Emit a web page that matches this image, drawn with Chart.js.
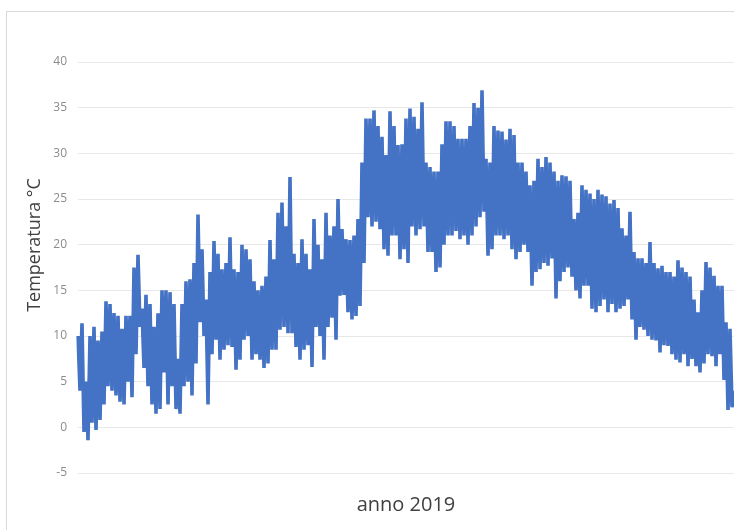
<!DOCTYPE html>
<html>
<head>
<meta charset="utf-8">
<script src="https://cdn.jsdelivr.net/npm/chart.js@4"></script>
<style>
  html, body { margin: 0; padding: 0; background: #fff; overflow: hidden; }
  #frame { position: absolute; left: 6px; top: 11px; width: 800px; height: 600px; border: 1px solid #d9d9d9; }
  #wrap { position: absolute; left: 0; top: 0; width: 734px; height: 530px; }
</style>
</head>
<body>
<div id="frame"></div>
<div id="wrap"><canvas id="tempChart" width="734" height="530"></canvas></div>
<script>
// daily highs / lows, alternating, Jan -> Dec
const temperature = [
  10, 4, 11.4, -0.5, 5, -1.4, 10, 0.5, 11, -0.3,
  9.5, 0.8, 10.5, 2.5, 13.8, 4.5, 13.5, 4, 12.5, 3.5,
  12.2, 2.8, 10.8, 2.5, 12.2, 5, 12.2, 3.3, 17.5, 8,
  18.9, 11, 13, 6.5, 14.5, 4.5, 13.5, 2.5, 11, 1.5,
  12.5, 2, 15, 6, 15, 2.5, 14.8, 4.5, 13.5, 2,
  7.5, 1.5, 13.5, 4.5, 16, 5, 16.2, 3.5, 18, 7,
  23.3, 11.5, 19.5, 10, 14, 2.5,
  17, 8, 20.4, 9.6, 19, 7.4, 17.3, 8.5, 18, 9, 20.8, 8.8, 17.3, 6.3,
  17, 7.4, 20, 9.6, 19.5, 10, 18.4, 7.4, 16, 8, 15, 7.4, 15.5, 6.5, 16.5, 7, 20.5, 8.5, 18.4, 8.5,
  23.5, 10.7, 24.6, 11, 22, 10.3, 27.4, 10.3, 19, 8.8, 18, 7.4, 20.6, 8.5, 19, 9, 17.3, 6.6, 22.8, 11,
  20, 10, 18.4, 7.4, 23.5, 11, 21, 12, 22, 9.6,
  25, 14.4, 21.7, 14.5, 20.6, 12.6, 20.5, 11.8, 21, 12.2,
  22.8, 13.3, 29, 18, 33.8, 23, 33.8, 22, 34.7, 22.5, 33, 21.7, 31.8, 19.5, 29.8, 18.8, 34.6, 21, 33, 21,
  30.9, 18.4, 31, 19.5, 33.8, 18, 34.9, 22, 34, 21, 32.7, 21.7, 35.6, 22, 29, 19.2, 28.5, 19.2, 28, 17,
  28, 17.5, 31, 20, 33.5, 21, 33.5, 21, 33, 21.5, 31.6, 20.6, 31.6, 21, 31.6, 20,
  33, 21, 35.5, 22,
  35, 23, 36.9, 23.6, 29.4, 18.8, 29, 19.5, 33, 21, 32.5, 21, 32.4, 20.6, 31.5, 21, 32.7, 19.5, 32, 18.4,
  29, 19.2, 29, 20, 28, 19.2, 26.5, 15.5, 27, 17, 29.4, 17.3, 28.5, 18, 29.6, 17.7, 29, 18.5, 28, 14.1,
  27, 16, 27.6, 17, 27.5, 17.5, 27, 16.5, 22.8, 15, 23.5, 14.1, 26.5, 15.5, 26, 15.5, 25.6, 13, 25, 12.6,
  26, 13.3, 25.5, 14, 25.3, 12.6, 24.5, 13.5, 24.9, 12.6, 24, 13, 21.8, 13.3, 21, 14, 23.6, 11.8, 19.2, 9.6,
  18.5, 11, 18.5, 10.7, 18, 10, 20.3, 9.6, 18, 9.5, 17.4, 8.2, 17.7, 9, 17, 8.9, 17, 8, 16.5, 7.4,
  18.3, 7.1, 17.5, 8, 17, 6.7, 16.5, 7.5, 14, 6.7, 12.6, 6, 15, 7, 18.1, 8, 17.5, 7.8, 16.6, 6.7,
  15.5, 8, 15.5, 5.2, 11.5, 1.9, 10.8, 2.2, 4
];
const samples = temperature.map((_, i) => i);
const yTicks = [-5, 0, 5, 10, 15, 20, 25, 30, 35, 40];
const xTitle = "anno 2019";
const yTitle = "Temperatura °C";

const yTitlePlugin = {
  id: "yTitle",
  afterDraw(chart) {
    const c = chart.ctx;
    c.save();
    c.translate(35, 245);
    c.rotate(-Math.PI / 2);
    c.font = "18px 'Open Sans'";
    c.fillStyle = "#404040";
    c.textAlign = "center";
    c.textBaseline = "middle";
    c.fillText(yTitle, 0, 0);
    c.restore();
  }
};

const ctx = document.getElementById("tempChart").getContext("2d");
new Chart(ctx, {
  type: "line",
  data: {
    labels: samples,
    datasets: [{
      data: temperature,
      borderColor: "#4472c4",
      borderWidth: 3.6,
      pointRadius: 0,
      tension: 0,
      fill: false
    }]
  },
  options: {
    responsive: false,
    animation: false,
    layout: { padding: { top: 62, left: 0, right: 0, bottom: 0 } },
    plugins: { legend: { display: false }, tooltip: { enabled: false } },
    scales: {
      x: {
        ticks: { display: false },
        grid: { display: false },
        border: { display: false },
        title: {
          display: true,
          text: xTitle,
          color: "#404040",
          font: { family: "Open Sans", size: 20 },
          padding: { top: 0, bottom: 13 }
        },
        afterFit: axis => { axis.height = 57; }
      },
      y: {
        min: -5,
        max: 40,
        afterBuildTicks: axis => { axis.ticks = yTicks.map(v => ({ value: v })); },
        ticks: { color: "#8c8c8c", font: { family: "Open Sans", size: 12 }, padding: 11 },
        grid: { color: "#e8e8e8", drawTicks: false },
        border: { display: false },
        afterFit: axis => { axis.width = 78; }
      }
    }
  },
  plugins: [yTitlePlugin]
});
</script>
</body>
</html>
